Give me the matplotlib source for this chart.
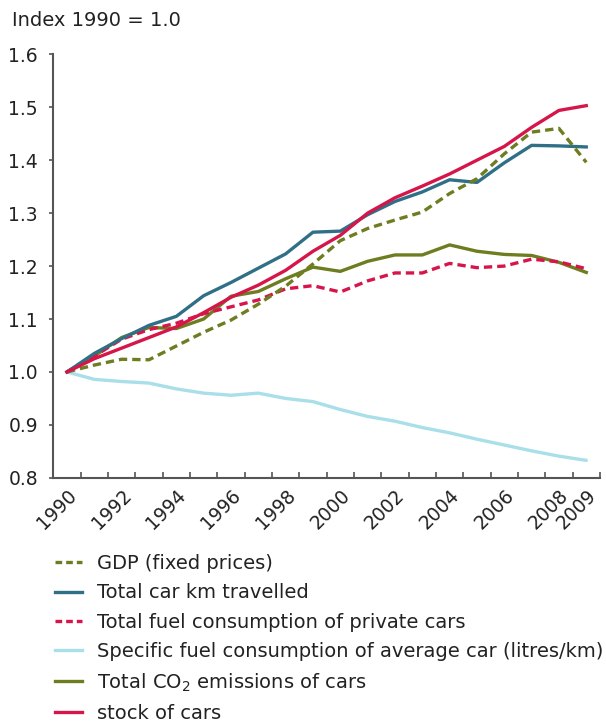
import matplotlib
matplotlib.use("Agg")
import matplotlib.pyplot as plt
from matplotlib.lines import Line2D
from matplotlib.ticker import FixedLocator, NullFormatter

years = list(range(1990, 2010))
gdp = [1.000, 1.013, 1.024, 1.023, 1.049, 1.075, 1.098, 1.128, 1.162, 1.204,
       1.248, 1.271, 1.287, 1.302, 1.337, 1.365, 1.412, 1.453, 1.460, 1.396]
car_km = [1.000, 1.035, 1.063, 1.088, 1.105, 1.144, 1.169, 1.196, 1.223, 1.264,
          1.266, 1.297, 1.322, 1.340, 1.363, 1.358, 1.395, 1.428, 1.427, 1.425]
fuel = [1.000, 1.030, 1.062, 1.080, 1.092, 1.110, 1.123, 1.136, 1.157, 1.163,
        1.151, 1.172, 1.187, 1.187, 1.205, 1.197, 1.200, 1.213, 1.208, 1.195]
specific = [1.000, 0.986, 0.982, 0.979, 0.968, 0.960, 0.956, 0.960, 0.950, 0.944,
            0.929, 0.916, 0.907, 0.895, 0.885, 0.873, 0.862, 0.851, 0.841, 0.833]
co2 = [1.000, 1.030, 1.065, 1.084, 1.082, 1.100, 1.143, 1.152, 1.176, 1.198,
       1.190, 1.209, 1.221, 1.221, 1.240, 1.228, 1.222, 1.220, 1.207, 1.188]
stock = [1.000, 1.025, 1.045, 1.065, 1.085, 1.112, 1.141, 1.164, 1.192, 1.228,
         1.258, 1.300, 1.329, 1.351, 1.374, 1.400, 1.426, 1.462, 1.494, 1.503]

labels = ["GDP (fixed prices)", "Total car km travelled",
          "Total fuel consumption of private cars",
          "Specific fuel consumption of average car (litres/km)",
          r"Total CO$_2$ emissions of cars", "stock of cars"]
tick_years = [1990, 1992, 1994, 1996, 1998, 2000, 2002, 2004, 2006, 2008, 2009]
y_ticks = [0.8, 0.9, 1.0, 1.1, 1.2, 1.3, 1.4, 1.5, 1.6]

c_olive = "#6e7d1f"
c_teal = "#2f7087"
c_red = "#d6154a"
c_light = "#a9dfe9"

plt.rcParams['font.family'] = ['DejaVu Sans']
fig = plt.figure(figsize=(6.06, 7.24), dpi=100)
ax = fig.add_axes([0.088, 0.340, 0.902, 0.585])

lw = 2.4
ax.plot(years, specific, color=c_light, lw=lw, solid_capstyle='round')
ax.plot(years, co2, color=c_olive, lw=lw)
ax.plot(years, fuel, color=c_red, lw=lw, dashes=(2.5, 1.5))
ax.plot(years, car_km, color=c_teal, lw=lw)
ax.plot(years, gdp, color=c_olive, lw=lw, dashes=(2.5, 1.5))
ax.plot(years, stock, color=c_red, lw=lw)

ax.set_xlim(1989.5, 2009.5)
ax.set_ylim(0.8, 1.6)
for s in ['top', 'right']:
    ax.spines[s].set_visible(False)
for s in ['left', 'bottom']:
    ax.spines[s].set_color('#555555')
    ax.spines[s].set_linewidth(1.5)

ax.set_xticks(tick_years)
ax.set_xticklabels([str(y) for y in tick_years], rotation=45, ha='right',
                   rotation_mode='anchor', fontsize=13.5, color='#222222')
ax.tick_params(axis='x', which='major', length=0, pad=6)
ax.xaxis.set_minor_locator(FixedLocator([y + 0.5 for y in range(1989, 2010)]))
ax.xaxis.set_minor_formatter(NullFormatter())
ax.tick_params(axis='x', which='minor', length=4, width=1.2, color='#555555', direction='in')

ax.set_yticks(y_ticks)
ax.set_yticklabels([f"{v:.1f}" for v in y_ticks], fontsize=13.5, color='#222222')
ax.tick_params(axis='y', length=3, width=1.2, color='#555555', pad=8)

fig.text(12 / 606, 1 - 20 / 724, "Index 1990 = 1.0", fontsize=14, va='center',
         ha='left', color='#222222')

handles = [
    Line2D([], [], color=c_olive, lw=lw, dashes=(2.0, 1.2)),
    Line2D([], [], color=c_teal, lw=lw),
    Line2D([], [], color=c_red, lw=lw, dashes=(2.0, 1.2)),
    Line2D([], [], color=c_light, lw=lw),
    Line2D([], [], color=c_olive, lw=lw),
    Line2D([], [], color=c_red, lw=lw),
]
leg = fig.legend(handles, labels, loc='upper left', bbox_to_anchor=(55 / 606, 1 - 554 / 724),
                 frameon=False, fontsize=14, handlelength=1.4, handletextpad=0.75,
                 labelspacing=0.53, borderaxespad=0, borderpad=0)
for t in leg.get_texts():
    t.set_color('#222222')

fig.savefig("out.png", dpi=100)
